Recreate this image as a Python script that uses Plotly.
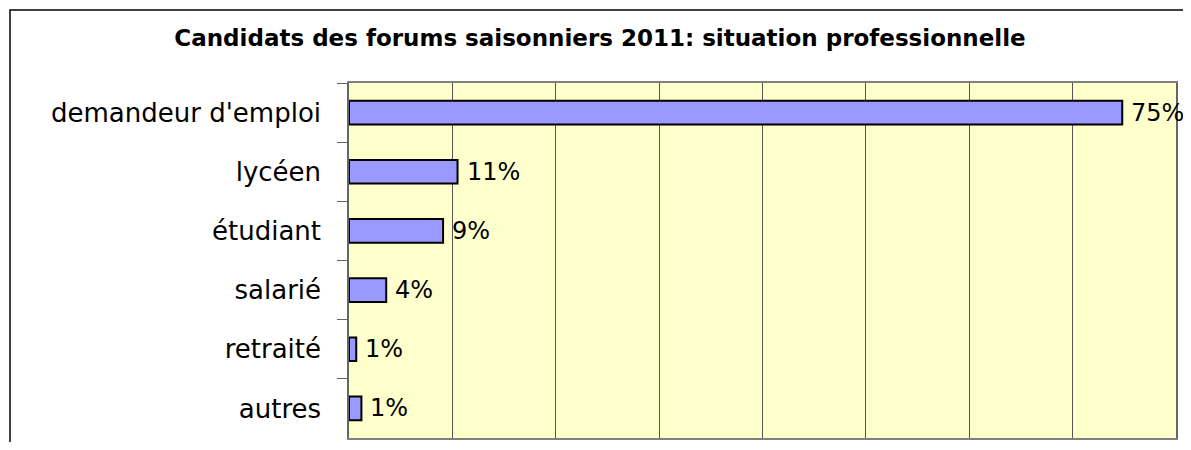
import plotly.graph_objects as go

# --- data ---
categories = ["demandeur d'emploi", "lycéen", "étudiant", "salarié", "retraité", "autres"]
shares = [0.748, 0.105, 0.091, 0.036, 0.007, 0.012]
value_labels = ["75%", "11%", "9%", "4%", "1%", "1%"]
title_text = "Candidats des forums saisonniers 2011: situation professionnelle"

# page has an 8px body margin; figure coordinates = page coordinates - 8
OFF = 8
W, H = 1175, 434
L = 349 - OFF
T = 83 - OFF
R = W - (1176 - OFF)
B = H - (438 - OFF)
pw, ph = W - L - R, H - T - B

def px_x(p):
    return (p - OFF - L) / pw

def px_y(p):
    return (H - B - (p - OFF)) / ph

fig = go.Figure()
fig.add_trace(go.Bar(
    x=shares,
    y=categories,
    orientation="h",
    width=0.4,
    marker=dict(color="#9999FF", line=dict(color="#000000", width=2)),
    hoverinfo="skip",
))

for c, v, t in zip(categories, shares, value_labels):
    fig.add_annotation(
        x=v, y=c, xref="x", yref="y", text=t, showarrow=False,
        xanchor="left", yanchor="middle", xshift=7,
        font=dict(family="DejaVu Sans", size=24, color="#000000"),
    )

# outer chart border (left and top edges visible)
fig.add_shape(type="rect", xref="paper", yref="paper",
              x0=px_x(10), x1=px_x(1260), y0=px_y(10), y1=px_y(520),
              line=dict(color="#000000", width=1.5), fillcolor="rgba(0,0,0,0)",
              layer="below")

fig.update_layout(
    width=W, height=H,
    margin=dict(l=L, r=R, t=T, b=B, pad=0),
    paper_bgcolor="#FFFFFF",
    plot_bgcolor="#FFFFCC",
    showlegend=False,
    title=dict(text="<b>" + title_text + "</b>", x=(600 - OFF) / W, xanchor="center",
               xref="container", y=1 - (38 - OFF) / H, yanchor="middle", yref="container",
               font=dict(family="DejaVu Sans", size=23, color="#000000")),
    xaxis=dict(range=[0, 0.8], dtick=0.1, tick0=0, showticklabels=False,
               showgrid=True, gridcolor="#555555", gridwidth=1, zeroline=False,
               showline=True, mirror=True, linecolor="#808080", linewidth=1.5,
               ticks="", fixedrange=True),
    yaxis=dict(categoryorder="array", categoryarray=categories, autorange="reversed",
               showgrid=False, zeroline=False, showline=True, mirror=True,
               linecolor="#666666", linewidth=1.5,
               ticks="outside", tickson="boundaries", ticklen=10, tickcolor="#666666",
               tickwidth=1, ticklabelstandoff=21,
               tickfont=dict(family="DejaVu Sans", size=26, color="#000000"),
               fixedrange=True),
)

fig.write_html("out.html")
